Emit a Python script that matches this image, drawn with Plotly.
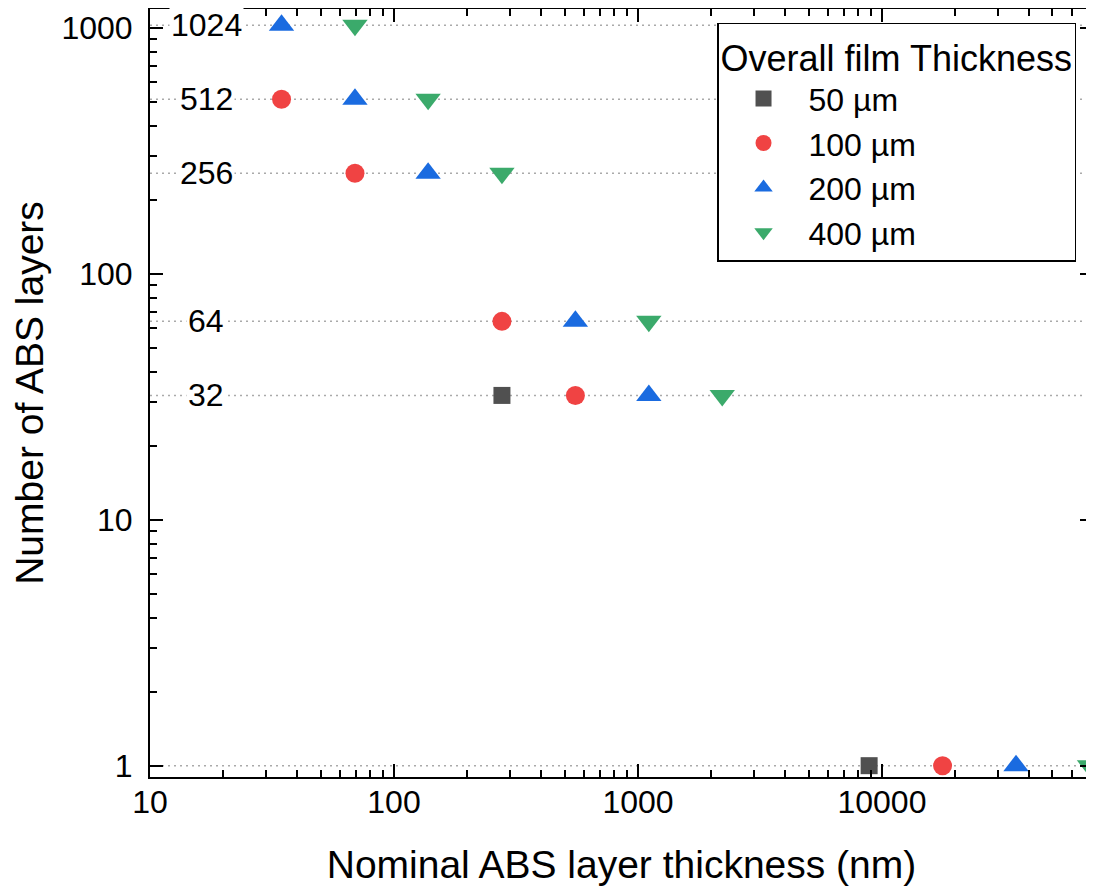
import plotly.graph_objects as go
import numpy as np

# Data
series_names = ["50 µm", "100 µm", "200 µm", "400 µm"]
layers_50 = [32, 1]
thick_50 = [277, 8860]
layers_100 = [512, 256, 64, 32, 1]
thick_100 = [34.6, 69.2, 277, 554, 17720]
layers_200 = [1024, 512, 256, 64, 32, 1]
thick_200 = [34.6, 69.2, 138, 554, 1108, 35440]
layers_400 = [1024, 512, 256, 64, 32, 1]
thick_400 = [69.2, 138, 277, 1108, 2215, 70880]
layer_levels = [1024, 512, 256, 64, 32, 1]
labelled_levels = [1024, 512, 256, 64, 32]
x_major = [10, 100, 1000, 10000]
y_major = [1, 10, 100, 1000]

colors = ["#505050", "#F04343", "#1A6BE0", "#3BAA6B"]
symbols = ["square", "circle", "triangle-up", "triangle-down"]
sizes = [17, 19, 22, 22]

FONT = "Liberation Sans, Arial, sans-serif"


def minor_vals(decades):
    return [m * d for d in decades for m in range(2, 10)]


fig = go.Figure()
for name, xs, ys, c, s, sz in zip(
    series_names,
    [thick_50, thick_100, thick_200, thick_400],
    [layers_50, layers_100, layers_200, layers_400],
    colors, symbols, sizes,
):
    fig.add_trace(go.Scatter(
        x=xs, y=ys, mode="markers", name=name, cliponaxis=False,
        marker=dict(color=c, symbol=s, size=sz, line=dict(width=0)),
    ))

# dotted horizontal reference lines
for lv in layer_levels:
    fig.add_shape(type="line", xref="paper", x0=0, x1=1, yref="y", y0=lv, y1=lv,
                  line=dict(color="#aaaaaa", width=1.5, dash="2px,4px"), layer="below")

# in-plot layer labels
for lv in labelled_levels:
    fig.add_annotation(x=0.0594, xref="paper", y=np.log10(lv), yref="y",
                       text=str(lv), showarrow=False, bgcolor="white",
                       font=dict(size=32, color="black", family=FONT),
                       xanchor="center", yanchor="middle")

axis_common = dict(
    type="log", showgrid=False, zeroline=False, automargin=False,
    showline=True, linecolor="black", linewidth=2, mirror="ticks",
    ticks="inside", ticklen=13, tickwidth=2, tickcolor="black",
    tickfont=dict(size=32, color="black", family=FONT),
)

fig.update_xaxes(
    **axis_common,
    range=[1, 4.865],
    tickmode="array", tickvals=x_major, ticktext=[str(v) for v in x_major],
    minor=dict(tickmode="array", tickvals=minor_vals([10, 100, 1000, 10000]),
               ticks="inside", ticklen=7, tickwidth=2, tickcolor="black", showgrid=False),
    ticklabelstandoff=-4,
    title=dict(text="Nominal ABS layer thickness (nm)", font=dict(size=39, color="black", family=FONT), standoff=31),
)
fig.update_yaxes(
    **axis_common,
    range=[-0.046, 3.076],
    tickmode="array", tickvals=y_major, ticktext=[str(v) for v in y_major],
    minor=dict(tickmode="array", tickvals=minor_vals([1, 10, 100, 1000]),
               ticks="inside", ticklen=7, tickwidth=2, tickcolor="black", showgrid=False),
    ticklabelstandoff=9,
    title=dict(text="Number of ABS layers", font=dict(size=39, color="black", family=FONT), standoff=14),
)

# page body has an 8px margin; the figure is sized/offset to compensate
fig.update_layout(
    width=1086, height=879,
    margin=dict(l=142, r=1, t=1, b=110, autoexpand=False),
    paper_bgcolor="white", plot_bgcolor="white",
    font=dict(family=FONT, color="black"),
    legend=dict(
        title=dict(text="Overall film Thickness", font=dict(size=36, family=FONT, color="black")),
        font=dict(size=32, family=FONT, color="black"),
        x=0.982, xanchor="right", y=0.982, yanchor="top",
        bgcolor="white", bordercolor="black", borderwidth=1.5,
        itemwidth=80, tracegroupgap=0,
    ),
    showlegend=True,
)

fig.write_html("out.html")
